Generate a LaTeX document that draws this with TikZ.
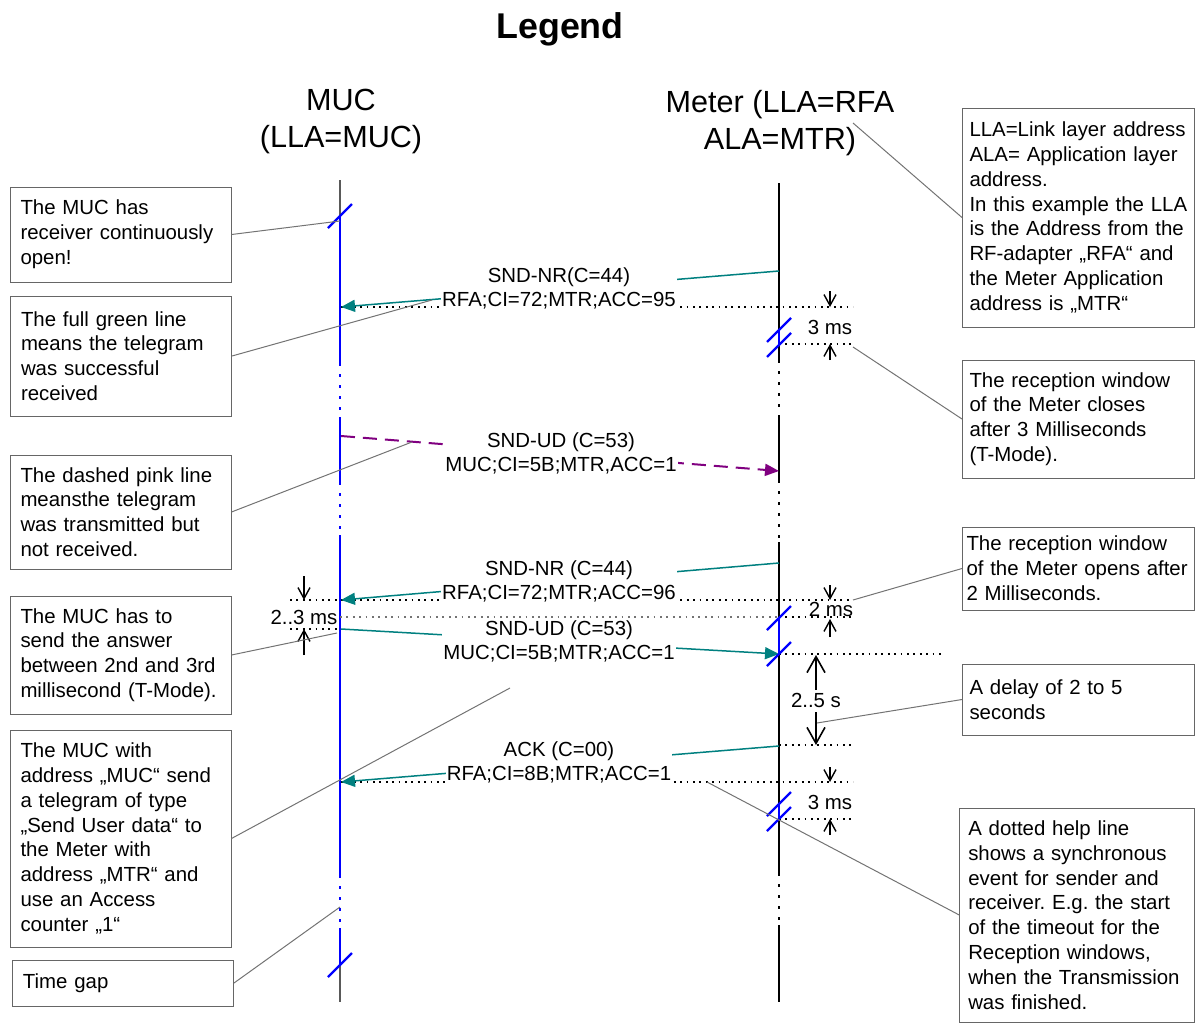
\documentclass[tikz,border=0pt]{standalone}
\usepackage{fontspec}
\setmainfont{Liberation Sans}
\usetikzlibrary{arrows.meta}
\definecolor{msgteal}{RGB}{0,128,128}
\definecolor{msgpink}{RGB}{128,0,128}
\definecolor{lifeblue}{RGB}{0,0,255}
\newcommand{\gapmark}[1]{\draw[gapslash] (#1) ++(-12,12) -- ++(24,-24)}
\frenchspacing
\hyphenpenalty=10000
\tikzset{
	head/.style={align=center,inner sep=0pt,font=\fontsize{15.3}{18.5}\selectfont},
	msg/.style={fill=white,align=center,inner sep=0.6pt,font=\fontsize{10.2}{12}\selectfont},
	dimlabel/.style={inner sep=0pt,font=\fontsize{10.2}{12}\selectfont},
	legend/.style={draw=black!60,line width=0.5pt,inner sep=0pt,align=left,font=\fontsize{10.2}{12.4}\selectfont},
	leftbox/.style={legend,text width=100pt,minimum width=110.5pt},
	rightbox/.style={legend,text width=109pt,minimum width=116pt},
	callout/.style={draw=black!55,line width=0.5pt},
	life/.style={draw=black!65,line width=0.75pt},
	meterline/.style={draw=black,line width=0.75pt},
	mucline/.style={draw=lifeblue,line width=1.2pt},
	gapdots/.style={dash pattern=on 1.5pt off 4pt},
	gapslash/.style={draw=lifeblue,line width=1.1pt},
	helpline/.style={draw=black,line width=0.8pt,dash pattern=on 0.9pt off 2.3pt},
	okmsg/.style={draw=msgteal,line width=0.75pt,-{Triangle[length=7pt,width=6pt,fill=msgteal]}},
	lostmsg/.style={draw=msgpink,line width=1pt,dash pattern=on 7pt off 4pt,-{Triangle[length=7pt,width=6pt,fill=msgpink]}},
	dimtip/.style={draw=black,line width=0.7pt,-{Straight Barb[length=5.5pt,width=6pt]}},
	bigtip/.style={draw=black,line width=0.8pt,-{Straight Barb[length=8pt,width=9pt]}}
}
\begin{document}
\begin{tikzpicture}[x=0.5pt,y=-0.5pt]
	\useasboundingbox (0,0) rectangle (1195,1023);
	\node[font=\bfseries\fontsize{17.9}{20}\selectfont] at (560,29) (title) {Legend};
	\node[head] at (341,121.5) (muc) {MUC\\(LLA=MUC)};
	\node[head] at (780,123.5) (meter) {Meter (LLA=RFA\\ALA=MTR)};
	
	% life lines
	\draw[life] (340,180) -- (340,215) (340,966) -- (340,1002);
	\draw[mucline] (340,215) -- (340,363) (340,417) -- (340,482) (340,535) -- (340,875) (340,928) -- (340,966);
	\draw[mucline,gapdots] (340,363) -- (340,417) (340,482) -- (340,535) (340,875) -- (340,928);
	\draw[meterline] (779,183) -- (779,360) (779,415) -- (779,480) (779,542) -- (779,873) (779,925) -- (779,1002);
	\draw[meterline,gapdots] (779,360) -- (779,415) (779,480) -- (779,542) (779,873) -- (779,925);
	
	% help lines
	\draw[helpline] (341,307) -- (853,307);
	\draw[helpline] (779,344) -- (853,344);
	\draw[helpline] (290,600) -- (853,600);
	\draw[helpline] (290,629) -- (340,629);
	\draw[helpline] (779,654) -- (943,654);
	\draw[helpline] (779,745) -- (853,745);
	\draw[helpline] (341,782) -- (853,782);
	\draw[helpline] (779,819) -- (853,819);
	
	% telegrams
	\coordinate (a1) at (779,271);
	\coordinate (a2) at (341,307);
	\coordinate (b1) at (341,436);
	\coordinate (b2) at (779,471);
	\coordinate (c1) at (779,563);
	\coordinate (c2) at (341,600);
	\coordinate (d1) at (341,629);
	\coordinate (d2) at (779,654);
	\coordinate (e1) at (779,746);
	\coordinate (e2) at (341,782);
	\draw[okmsg] (a1) -- (a2);
	\draw[lostmsg] (b1) -- (b2);
	\draw[okmsg] (c1) -- (c2);
	\draw[okmsg] (d1) -- (d2);
	\draw[okmsg] (e1) -- (e2);
	\node[msg] at (559,288.5) (ma) {SND-NR(C=44)\\RFA;CI=72;MTR;ACC=95};
	\node[msg] at (561,453) (mb) {SND-UD (C=53)\\MUC;CI=5B;MTR,ACC=1};
	\node[msg] at (559,581) (mc) {SND-NR (C=44)\\RFA;CI=72;MTR;ACC=96};
	\node[msg] at (559,641) (md) {SND-UD (C=53)\\MUC;CI=5B;MTR;ACC=1};
	\node[msg] at (559,762.5) (me) {ACK (C=00)\\RFA;CI=8B;MTR;ACC=1};
	\draw[helpline,draw=black!55] (340,617) -- (779,617);
	\draw[helpline] (779,617) -- (853,617);
	
	% receiver windows
	\draw[mucline] (779,330) -- (779,345) (779,618) -- (779,654) (779,804) -- (779,819);
	\gapmark{340,216};
	\gapmark{340,965};
	\gapmark{779,330};
	\gapmark{779,345};
	\gapmark{779,618};
	\gapmark{779,654};
	\gapmark{779,804};
	\gapmark{779,819};
	
	% times
	\draw[dimtip] (830,291) -- (830,307);
	\draw[dimtip] (830,360) -- (830,344);
	\node[dimlabel] at (830,327) (t1) {3 ms};
	\draw[dimtip] (830,585) -- (830,600);
	\draw[dimtip] (830,637) -- (830,619);
	\node[dimlabel] at (831,609) (t2) {2 ms};
	\draw[dimtip] (304,576) -- (304,600);
	\draw[dimtip] (304,655) -- (304,629);
	\node[dimlabel] at (304,617) (t3) {2..3 ms};
	\draw[bigtip] (816,690) -- (816,655);
	\draw[bigtip] (816,712) -- (816,745);
	\node[dimlabel] at (816,700) (t4) {2..5 s};
	\draw[dimtip] (830,767) -- (830,782);
	\draw[dimtip] (830,835) -- (830,819);
	\node[dimlabel] at (830,802) (t5) {3 ms};
	
	% legend boxes
	\node[leftbox,minimum height=47.5pt] at (120.5,234.5) (n1) {The MUC has\\receiver continuously\\open!};
	\node[leftbox,minimum height=60pt] at (121,356) (n2) {The full green line\\means the telegram\\was successful\\received};
	\node[leftbox,minimum height=57pt] at (120.5,512) (n3) {The dashed pink line\\meansthe telegram\\was transmitted but\\not received.};
	\node[leftbox,minimum height=59pt] at (120.5,655) (n4) {The MUC has to\\send the answer\\between 2nd and 3rd\\millisecond (T-Mode).};
	\node[leftbox,minimum height=108.5pt] at (120.5,838.5) (n5) {The MUC with\\address „MUC“ send\\a telegram of type\\„Send User data“ to\\the Meter with\\address „MTR“ and\\use an Access\\counter „1“};
	\node[leftbox,minimum height=23pt] at (123,983) (n6) {Time gap};
	\node[rightbox,minimum height=109.5pt] at (1078.5,217.5) (n7) {LLA=Link layer address\\ALA= Application layer\\address.\\In this example the LLA\\is the Address from the\\RF-adapter „RFA“ and\\the Meter Application\\address is „MTR“};
	\node[rightbox,minimum height=59pt] at (1078.5,419) (n8) {The reception window\\of the Meter closes\\after 3 Milliseconds\\(T-Mode).};
	\node[rightbox,text width=112pt,minimum height=41.5pt] at (1078.5,568.5) (n9) {The reception window\\of the Meter opens after\\2 Milliseconds.};
	\node[rightbox,minimum height=35.5pt] at (1078.5,699.5) (n10) {A delay of 2 to 5\\seconds};
	\node[rightbox,minimum width=117.5pt,minimum height=107pt] at (1077.25,915) (n11) {A dotted help line\\shows a synchronous\\event for sender and\\receiver. E.g. the start\\of the timeout for the\\Reception windows,\\when the Transmission\\was finished.};
	
	\coordinate (p1) at (340,221);
	\coordinate (p2) at (432,300);
	\coordinate (p3) at (412,442);
	\coordinate (p4) at (337,633);
	\coordinate (p5) at (510,688);
	\coordinate (p6) at (340,907);
	\coordinate (p7) at (853,123);
	\coordinate (p8) at (853,347);
	\coordinate (p9) at (853,600);
	\coordinate (p10) at (817,723);
	\coordinate (p11) at (707,782);
	\draw[callout] (n1.east) -- (p1);
	\draw[callout] (n2.east) -- (p2);
	\draw[callout] (n3.east) -- (p3);
	\draw[callout] (n4.east) -- (p4);
	\draw[callout] (n5.east) -- (p5);
	\draw[callout] (n6.east) -- (p6);
	\draw[callout] (n7.west) -- (p7);
	\draw[callout] (n8.west) -- (p8);
	\draw[callout] (n9.west) -- (p9);
	\draw[callout] (n10.west) -- (p10);
	\draw[callout] (n11.west) -- (p11);
\end{tikzpicture}
\end{document}
